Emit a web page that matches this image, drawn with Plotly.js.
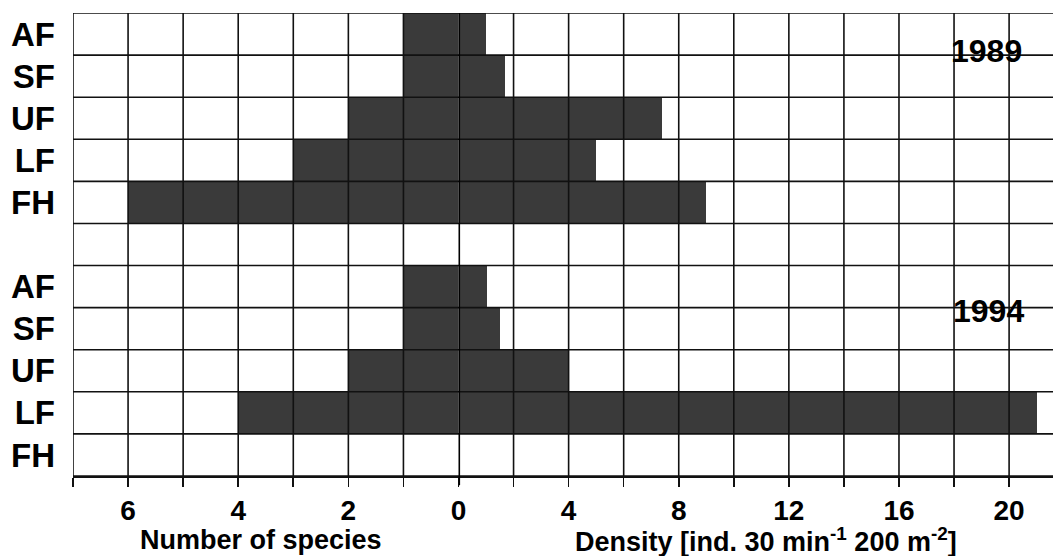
<!DOCTYPE html>
<html>
<head>
<meta charset="utf-8">
<script src="https://cdn.plot.ly/plotly-3.0.1.min.js"></script>
<style>html,body{margin:0;padding:0;background:#fff}#chart{width:1053px;height:556px}</style>
</head>
<body>
<div id="chart"></div>
<script>
// ---- data ----
var sites = ["AF", "SF", "UF", "LF", "FH"];
var years = ["1989", "1994"];
var species1989 = [1, 1, 2, 3, 6];
var species1994 = [1, 1, 2, 4, 0];
var density1989 = [1.0, 1.7, 7.4, 5.0, 9.0];
var density1994 = [1.05, 1.5, 4.0, 21.0, 0];
var speciesTicks = [0, 2, 4, 6];
var speciesTickText = ["0", "2", "4", "6"];
var speciesGrid = [1, 2, 3, 4, 5, 6, 7];
var densityTicks = [4, 8, 12, 16, 20];
var densityTickText = ["4", "8", "12", "16", "20"];
var densityGrid = [2, 4, 6, 8, 10, 12, 14, 16, 18, 20];

// row categories (unique keys), with a blank separator row
var rows1989 = sites.map(function (s) { return s + " " + years[0]; });
var rows1994 = sites.map(function (s) { return s + " " + years[1]; });
var gapRow = "gap";
var rowOrder = rows1989.concat([gapRow], rows1994);
var labelledRows = rows1989.concat(rows1994);
var rowLabels = sites.concat(sites);

function bold(t) { return "<b>" + t + "</b>"; }

var barColor = "#3a3a3a";
var font = "Liberation Sans, Arial, sans-serif";

function barTrace(x, y, xaxis) {
  return {
    type: "bar", orientation: "h", x: x, y: y, xaxis: xaxis, yaxis: "y",
    marker: { color: barColor, line: { width: 0 } },
    hoverinfo: "x+y", showlegend: false
  };
}

var data = [
  barTrace(species1989, rows1989, "x"),
  barTrace(species1994, rows1994, "x"),
  barTrace(density1989, rows1989, "x2"),
  barTrace(density1994, rows1994, "x2")
];

// grid lines drawn above the bars
var gridColor = "#111";
var shapes = [];
speciesGrid.forEach(function (v) {
  shapes.push({ type: "line", xref: "x", yref: "paper", x0: v, x1: v, y0: 0, y1: 1, layer: "above",
    line: { color: gridColor, width: 1.6 } });
});
densityGrid.forEach(function (v) {
  shapes.push({ type: "line", xref: "x2", yref: "paper", x0: v, x1: v, y0: 0, y1: 1, layer: "above",
    line: { color: gridColor, width: 1.6 } });
});
for (var i = 0; i <= rowOrder.length; i++) {
  shapes.push({ type: "line", xref: "paper", yref: "y", x0: 0, x1: 1, y0: i - 0.5, y1: i - 0.5, layer: "above",
    line: { color: gridColor, width: 1.6 } });
}
// thick zero line
shapes.push({ type: "line", xref: "x2", yref: "paper", x0: 0, x1: 0, y0: -0.02, y1: 1, layer: "above",
  line: { color: "#000", width: 3.2 } });

var splitFrac = (458.5 - 73) / 980;

function xAxis(domain, range, tickvals, ticktext, minorStep) {
  return {
    domain: domain, range: range, showgrid: false, zeroline: false,
    tickmode: "array", tickvals: tickvals, ticktext: ticktext.map(bold),
    ticks: "outside", ticklen: 9, tickwidth: 1.6, tickcolor: "#111",
    minor: { ticks: "outside", ticklen: 9, tickwidth: 1.6, tickcolor: "#111", dtick: minorStep, tick0: 0, showgrid: false },
    showline: true, linecolor: "#111", linewidth: 1.6,
    tickfont: { family: font, size: 28, color: "#000" },
    fixedrange: true
  };
}

var xa2 = xAxis([splitFrac, 1], [0, 594.5 / 27.53], densityTicks, densityTickText, 2);
xa2.anchor = "y";

var layout = {
  width: 1053, height: 556,
  margin: { l: 73, r: 0, t: 13, b: 80 },
  paper_bgcolor: "#fff", plot_bgcolor: "#fff",
  bargap: 0, barmode: "overlay",
  font: { family: font, color: "#000" },
  xaxis: xAxis([0, splitFrac], [7, 0], speciesTicks, speciesTickText, 1),
  xaxis2: xa2,
  yaxis: {
    type: "category", categoryorder: "array", categoryarray: rowOrder,
    range: [rowOrder.length - 0.5, -0.5], showgrid: false, zeroline: false, showline: false,
    tickmode: "array", tickvals: labelledRows, ticktext: rowLabels.map(bold), ticks: "",
    ticklabelstandoff: 17,
    tickfont: { family: font, size: 33, color: "#000" },
    fixedrange: true
  },
  shapes: shapes,
  annotations: [
    { text: bold(years[0]), xref: "paper", yref: "paper", x: (986 - 73) / 980, y: 1 - (51 - 13) / 463, showarrow: false,
      xanchor: "center", yanchor: "middle", font: { family: font, size: 32, color: "#000" } },
    { text: bold(years[1]), xref: "paper", yref: "paper", x: (988 - 73) / 980, y: 1 - (311 - 13) / 463, showarrow: false,
      xanchor: "center", yanchor: "middle", font: { family: font, size: 32, color: "#000" } },
    { text: bold("Number of species"), xref: "paper", yref: "paper", x: (261 - 73) / 980, y: -0.138, showarrow: false,
      xanchor: "center", yanchor: "middle", font: { family: font, size: 27, color: "#000" } },
    { text: bold("Density [ind. 30 min<sup>-1</sup> 200 m<sup>-2</sup>]"), xref: "paper", yref: "paper",
      x: (766 - 73) / 980, y: -0.138, showarrow: false,
      xanchor: "center", yanchor: "middle", font: { family: font, size: 27, color: "#000" } }
  ]
};

Plotly.newPlot("chart", data, layout, { displayModeBar: false, staticPlot: true });
</script>
</body>
</html>
